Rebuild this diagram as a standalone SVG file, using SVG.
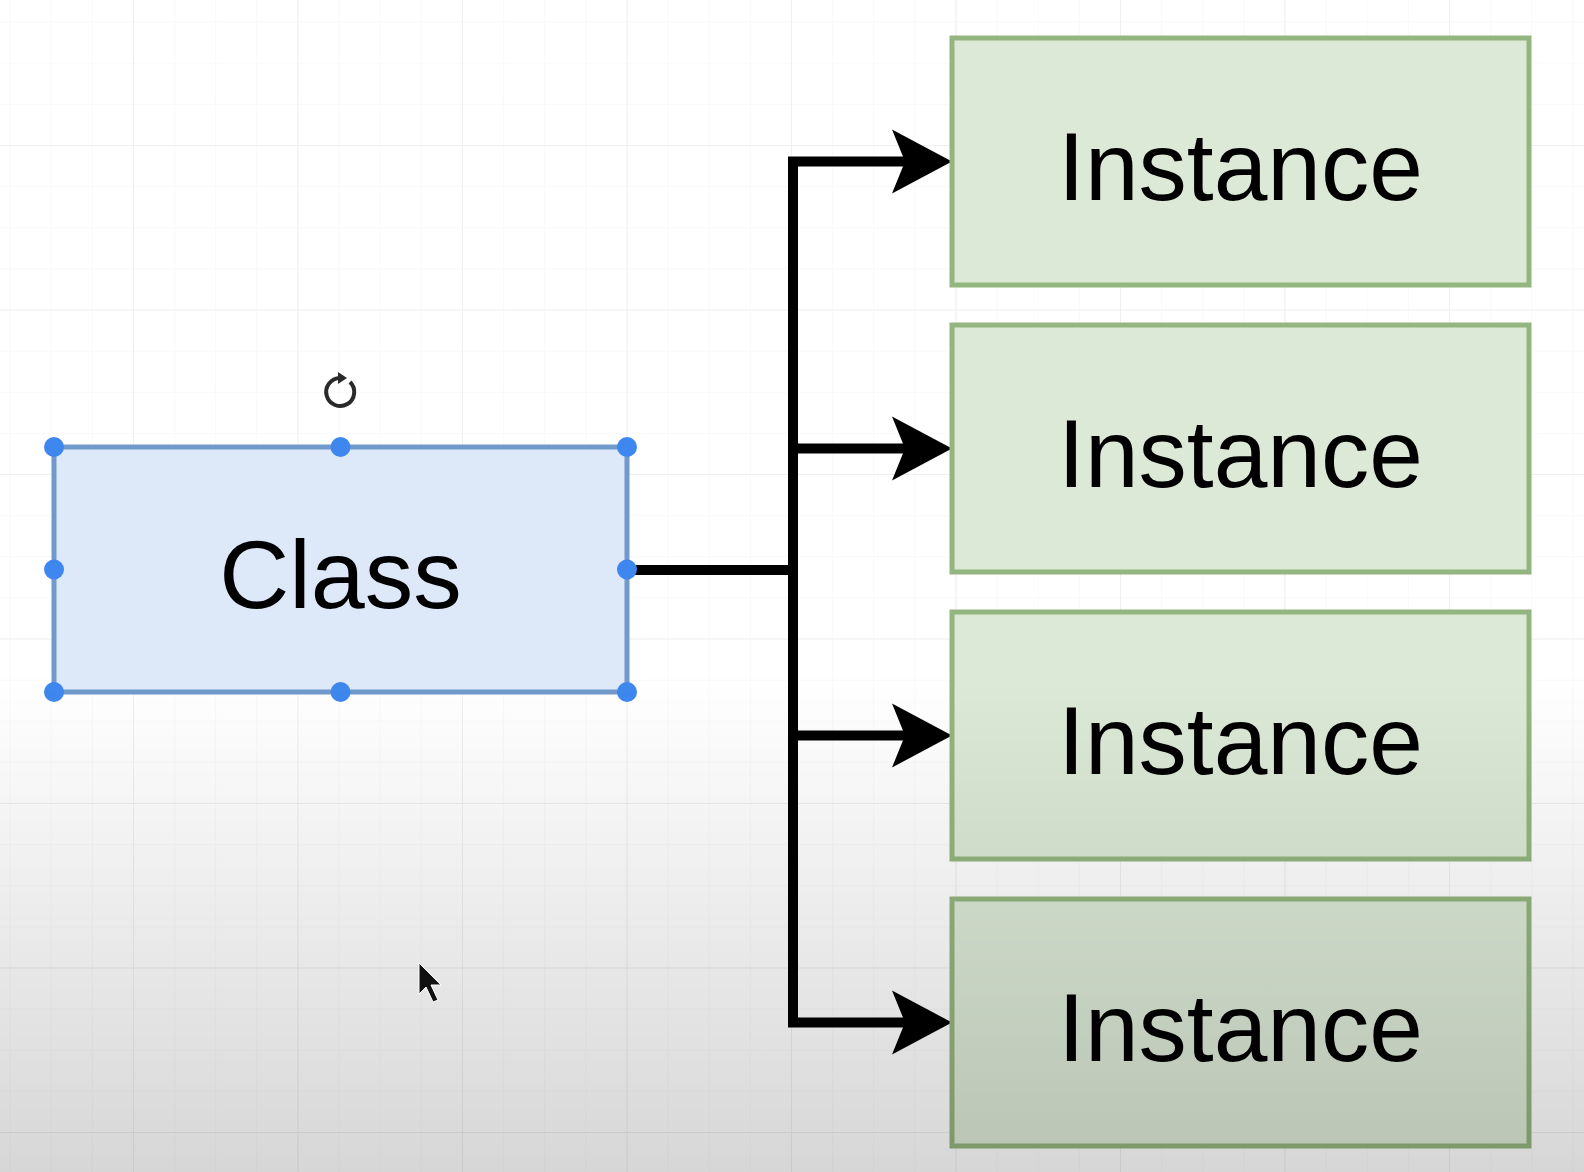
<svg xmlns="http://www.w3.org/2000/svg" width="1584" height="1172" viewBox="0 0 1584 1172">
  <style>
    .label { font-family: "Liberation Sans", Arial, Helvetica, sans-serif; fill: #000000; text-anchor: middle; }
    .inst-box { fill: #dce9d6; stroke: #93b57f; stroke-width: 5; }
    .class-box { fill: #dde8f8; stroke: #7099cc; stroke-width: 5; }
    .handle { fill: #3d87ee; }
    .conn { fill: none; stroke: #000000; stroke-width: 10; stroke-linejoin: miter; }
  </style>
  <defs>
    <pattern id="minor" x="133" y="145" width="41.125" height="41.125" patternUnits="userSpaceOnUse">
      <path d="M0,0 V41.125 M0,0 H41.125" fill="none" stroke="#f8f8f8" stroke-width="1.5"/>
    </pattern>
    <pattern id="major" x="133" y="145" width="164.5" height="164.5" patternUnits="userSpaceOnUse">
      <path d="M0,0 V164.5 M0,0 H164.5" fill="none" stroke="#efefef" stroke-width="2"/>
    </pattern>
    <linearGradient id="shade" x1="0" y1="680" x2="0" y2="1172" gradientUnits="userSpaceOnUse">
      <stop offset="0" stop-color="#000000" stop-opacity="0"/>
      <stop offset="1" stop-color="#000000" stop-opacity="0.16"/>
    </linearGradient>
    <marker id="arrow" markerUnits="userSpaceOnUse" markerWidth="62" markerHeight="66" refX="50" refY="33" orient="auto" viewBox="0 0 62 66">
      <path d="M0,1 L60,33 L0,65 L13,33 Z" fill="#000000"/>
    </marker>
  </defs>

  <rect id="background" x="0" y="0" width="1584" height="1172" fill="#ffffff"/>
  <rect x="0" y="0" width="1584" height="1172" fill="url(#minor)"/>
  <rect x="0" y="0" width="1584" height="1172" fill="url(#major)"/>

  <g id="connectors">
    <path class="conn" d="M627,570 H793 V161.5 H942" marker-end="url(#arrow)"/>
    <path class="conn" d="M793,570 V448.5 H942" marker-end="url(#arrow)"/>
    <path class="conn" d="M793,570 V735.5 H942" marker-end="url(#arrow)"/>
    <path class="conn" d="M793,570 V1022.5 H942" marker-end="url(#arrow)"/>
  </g>

  <g id="class-node">
    <rect class="class-box" x="54" y="447" width="573" height="245"/>
    <text class="label" x="340.5" y="608" font-size="97">Class</text>
    <circle class="handle" cx="54" cy="447" r="10"/>
    <circle class="handle" cx="340.5" cy="447" r="10"/>
    <circle class="handle" cx="627" cy="447" r="10"/>
    <circle class="handle" cx="54" cy="569.5" r="10"/>
    <circle class="handle" cx="627" cy="569.5" r="10"/>
    <circle class="handle" cx="54" cy="692" r="10"/>
    <circle class="handle" cx="340.5" cy="692" r="10"/>
    <circle class="handle" cx="627" cy="692" r="10"/>
    <g id="rotate-handle">
      <path d="M350,382 A14,14 0 1,1 340,378" fill="none" stroke="#2a2a2a" stroke-width="4"/>
      <path d="M338,372 L347,378 L338,384 Z" fill="#2a2a2a"/>
    </g>
  </g>

  <g id="instance-1">
    <rect class="inst-box" x="952" y="38" width="577" height="247"/>
    <text class="label" x="1240.5" y="200" font-size="96.5">Instance</text>
  </g>
  <g id="instance-2">
    <rect class="inst-box" x="952" y="325" width="577" height="247"/>
    <text class="label" x="1240.5" y="487" font-size="96.5">Instance</text>
  </g>
  <g id="instance-3">
    <rect class="inst-box" x="952" y="612" width="577" height="247"/>
    <text class="label" x="1240.5" y="774" font-size="96.5">Instance</text>
  </g>
  <g id="instance-4">
    <rect class="inst-box" x="952" y="899" width="577" height="247"/>
    <text class="label" x="1240.5" y="1061" font-size="96.5">Instance</text>
  </g>

  <rect id="bottom-shade" x="0" y="680" width="1584" height="492" fill="url(#shade)"/>

  <path id="cursor" d="M419,963 L419,994 L426,987 L433,1002 L438,1000 L431,985 L441,985 Z" fill="#111111" stroke="#ffffff" stroke-width="1"/>
</svg>
